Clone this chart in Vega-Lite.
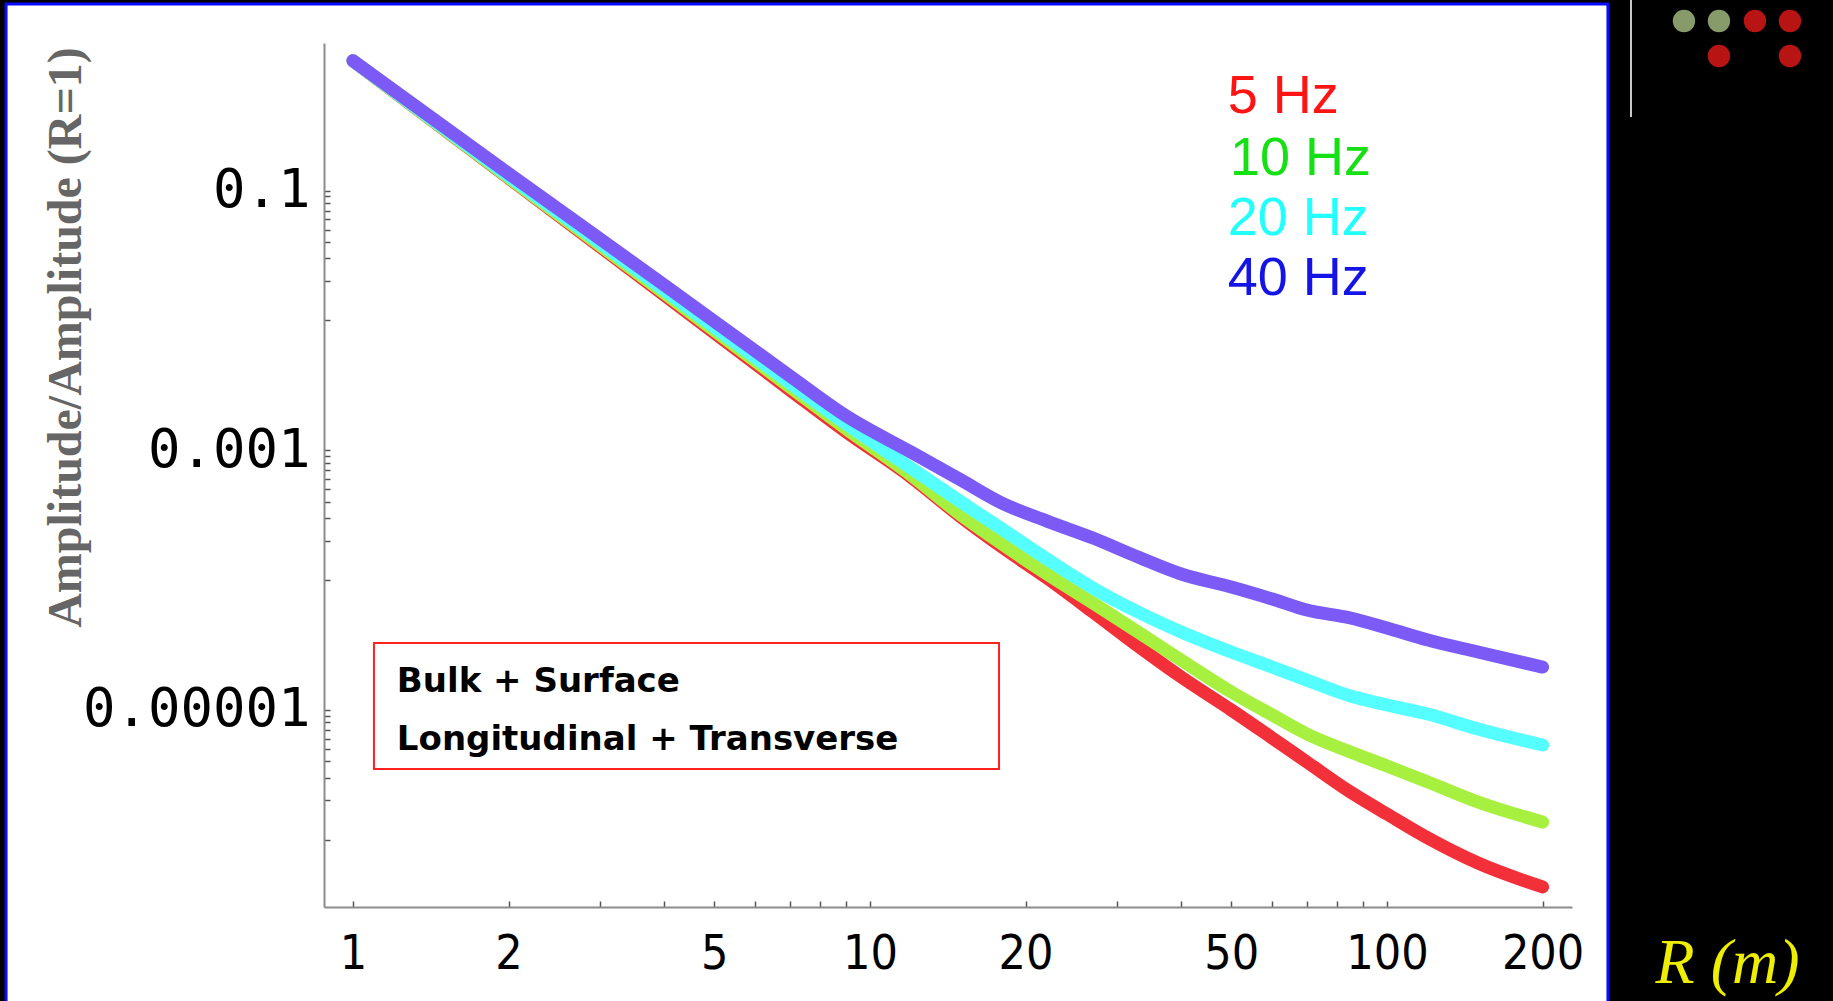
{
  "$schema": "https://vega.github.io/schema/vega-lite/v6.json",
  "width": 1248,
  "height": 864,
  "autosize": "none",
  "padding": {"left": 324, "top": 43, "right": 261, "bottom": 94},
  "background": "#000000",
  "config": {"view": {"stroke": null}, "axis": {"grid": false}},
  "datasets": {
    "curves": [
      {"R": 1, "A": 1.0, "f": "5 Hz"}, {"R": 2, "A": 0.1248, "f": "5 Hz"}, {"R": 4, "A": 0.01566, "f": "5 Hz"}, {"R": 7, "A": 0.002904, "f": "5 Hz"}, {"R": 9, "A": 0.001378, "f": "5 Hz"}, {"R": 12, "A": 0.000621, "f": "5 Hz"}, {"R": 15, "A": 0.000305, "f": "5 Hz"}, {"R": 18, "A": 0.0001792, "f": "5 Hz"}, {"R": 22, "A": 0.0001034, "f": "5 Hz"}, {"R": 27, "A": 5.656e-5, "f": "5 Hz"}, {"R": 33, "A": 3.096e-5, "f": "5 Hz"}, {"R": 40, "A": 1.786e-5, "f": "5 Hz"}, {"R": 50, "A": 9.95e-6, "f": "5 Hz"}, {"R": 60, "A": 6.05e-6, "f": "5 Hz"}, {"R": 70, "A": 3.955e-6, "f": "5 Hz"}, {"R": 85, "A": 2.322e-6, "f": "5 Hz"}, {"R": 100, "A": 1.572e-6, "f": "5 Hz"}, {"R": 120, "A": 1.027e-6, "f": "5 Hz"}, {"R": 150, "A": 6.59e-7, "f": "5 Hz"}, {"R": 200, "A": 4.31e-7, "f": "5 Hz"},
      {"R": 1, "A": 1.0, "f": "10 Hz"}, {"R": 2, "A": 0.1259, "f": "10 Hz"}, {"R": 4, "A": 0.01623, "f": "10 Hz"}, {"R": 7, "A": 0.003063, "f": "10 Hz"}, {"R": 9, "A": 0.001454, "f": "10 Hz"}, {"R": 12, "A": 0.000643, "f": "10 Hz"}, {"R": 15, "A": 0.000316, "f": "10 Hz"}, {"R": 18, "A": 0.0001891, "f": "10 Hz"}, {"R": 22, "A": 0.000111, "f": "10 Hz"}, {"R": 27, "A": 6.637e-5, "f": "10 Hz"}, {"R": 33, "A": 3.97e-5, "f": "10 Hz"}, {"R": 40, "A": 2.41e-5, "f": "10 Hz"}, {"R": 50, "A": 1.369e-5, "f": "10 Hz"}, {"R": 60, "A": 9.1e-6, "f": "10 Hz"}, {"R": 70, "A": 6.5e-6, "f": "10 Hz"}, {"R": 85, "A": 4.72e-6, "f": "10 Hz"}, {"R": 100, "A": 3.683e-6, "f": "10 Hz"}, {"R": 120, "A": 2.773e-6, "f": "10 Hz"}, {"R": 150, "A": 1.945e-6, "f": "10 Hz"}, {"R": 200, "A": 1.364e-6, "f": "10 Hz"},
      {"R": 1, "A": 1.0, "f": "20 Hz"}, {"R": 2, "A": 0.1293, "f": "20 Hz"}, {"R": 4, "A": 0.01712, "f": "20 Hz"}, {"R": 7, "A": 0.003288, "f": "20 Hz"}, {"R": 9, "A": 0.001589, "f": "20 Hz"}, {"R": 12, "A": 0.000728, "f": "20 Hz"}, {"R": 15, "A": 0.0003983, "f": "20 Hz"}, {"R": 18, "A": 0.0002466, "f": "20 Hz"}, {"R": 22, "A": 0.0001449, "f": "20 Hz"}, {"R": 27, "A": 8.66e-5, "f": "20 Hz"}, {"R": 33, "A": 5.656e-5, "f": "20 Hz"}, {"R": 40, "A": 3.97e-5, "f": "20 Hz"}, {"R": 50, "A": 2.782e-5, "f": "20 Hz"}, {"R": 60, "A": 2.13e-5, "f": "20 Hz"}, {"R": 70, "A": 1.69e-5, "f": "20 Hz"}, {"R": 85, "A": 1.275e-5, "f": "20 Hz"}, {"R": 100, "A": 1.087e-5, "f": "20 Hz"}, {"R": 120, "A": 9.27e-6, "f": "20 Hz"}, {"R": 150, "A": 7.1e-6, "f": "20 Hz"}, {"R": 200, "A": 5.35e-6, "f": "20 Hz"},
      {"R": 1, "A": 1.0, "f": "40 Hz"}, {"R": 2, "A": 0.1354, "f": "40 Hz"}, {"R": 4, "A": 0.01871, "f": "40 Hz"}, {"R": 7, "A": 0.003724, "f": "40 Hz"}, {"R": 9, "A": 0.001831, "f": "40 Hz"}, {"R": 12, "A": 0.000967, "f": "40 Hz"}, {"R": 15, "A": 0.000588, "f": "40 Hz"}, {"R": 18, "A": 0.000391, "f": "40 Hz"}, {"R": 22, "A": 0.000284, "f": "40 Hz"}, {"R": 27, "A": 0.00021, "f": "40 Hz"}, {"R": 33, "A": 0.00015, "f": "40 Hz"}, {"R": 40, "A": 0.000111, "f": "40 Hz"}, {"R": 50, "A": 8.82e-5, "f": "40 Hz"}, {"R": 60, "A": 7.125e-5, "f": "40 Hz"}, {"R": 70, "A": 5.86e-5, "f": "40 Hz"}, {"R": 85, "A": 5.09e-5, "f": "40 Hz"}, {"R": 100, "A": 4.26e-5, "f": "40 Hz"}, {"R": 120, "A": 3.44e-5, "f": "40 Hz"}, {"R": 150, "A": 2.782e-5, "f": "40 Hz"}, {"R": 200, "A": 2.13e-5, "f": "40 Hz"}
    ],
    "legend": [
      {"f": "5 Hz", "lx": 49.2, "ly": 0.3926},
      {"f": "10 Hz", "lx": 49.7, "ly": 0.1307},
      {"f": "20 Hz", "lx": 49.2, "ly": 0.04544},
      {"f": "40 Hz", "lx": 49.2, "ly": 0.01578}
    ],
    "note": [
      {"t": "Bulk + Surface", "nx": 1.216, "ny": 1.369e-5},
      {"t": "Longitudinal + Transverse", "nx": 1.216, "ny": 4.89e-6}
    ],
    "dots": [
      {"dx": 375.4, "dy": 2.022, "k": "g"},
      {"dx": 438.7, "dy": 2.022, "k": "g"},
      {"dx": 515.0, "dy": 2.022, "k": "r"},
      {"dx": 601.9, "dy": 2.022, "k": "r"},
      {"dx": 438.7, "dy": 1.087, "k": "r"},
      {"dx": 601.9, "dy": 1.087, "k": "r"}
    ]
  },
  "resolve": {"scale": {"color": "independent"}},
  "layer": [
    {
      "data": {"values": [{}]},
      "mark": {"type": "rect", "fill": "#ffffff", "stroke": "#0a0aff", "strokeWidth": 3, "clip": false},
      "encoding": {
        "x": {"datum": 0.2133, "type": "quantitative", "scale": {"type": "log", "domain": [0.879, 228]}},
        "x2": {"datum": 267.6},
        "y": {"datum": 2.734, "type": "quantitative", "scale": {"type": "log", "domain": [3.02e-7, 1.369]}},
        "y2": {"datum": 4.86e-8}
      }
    },
    {
      "data": {"values": [{}]},
      "mark": {"type": "rule", "color": "#c8c8c8", "strokeWidth": 2, "clip": false},
      "encoding": {
        "x": {"datum": 296.5, "type": "quantitative", "scale": {"type": "log", "domain": [0.879, 228]}},
        "y": {"datum": 2.935, "type": "quantitative", "scale": {"type": "log", "domain": [3.02e-7, 1.369]}},
        "y2": {"datum": 0.3683}
      }
    },
    {
      "data": {"name": "dots"},
      "mark": {"type": "point", "filled": true, "opacity": 1, "size": 500, "clip": false},
      "encoding": {
        "x": {"field": "dx", "type": "quantitative", "scale": {"type": "log", "domain": [0.879, 228]}},
        "y": {"field": "dy", "type": "quantitative", "scale": {"type": "log", "domain": [3.02e-7, 1.369]}},
        "color": {"field": "k", "type": "nominal", "scale": {"domain": ["g", "r"], "range": ["#879a6a", "#b81414"]}, "legend": null}
      }
    },
    {
      "data": {"values": [{}]},
      "mark": {"type": "rect", "fill": "#ffffff", "stroke": "#ff2020", "strokeWidth": 2},
      "encoding": {
        "x": {"datum": 1.098, "type": "quantitative", "scale": {"type": "log", "domain": [0.879, 228]}},
        "x2": {"datum": 17.77},
        "y": {"datum": 3.265e-5, "type": "quantitative", "scale": {"type": "log", "domain": [3.02e-7, 1.369]}},
        "y2": {"datum": 3.49e-6}
      }
    },
    {
      "data": {"name": "note"},
      "mark": {"type": "text", "align": "left", "baseline": "alphabetic", "font": "DejaVu Sans", "fontWeight": "bold", "fontSize": 34, "color": "#000000"},
      "encoding": {
        "x": {"field": "nx", "type": "quantitative", "scale": {"type": "log", "domain": [0.879, 228]}},
        "y": {"field": "ny", "type": "quantitative", "scale": {"type": "log", "domain": [3.02e-7, 1.369]}},
        "text": {"field": "t"}
      }
    },
    {
      "data": {"name": "curves"},
      "mark": {"type": "line", "strokeWidth": 13, "strokeCap": "round", "strokeJoin": "round", "interpolate": "monotone"},
      "encoding": {
        "x": {
          "field": "R", "type": "quantitative",
          "scale": {"type": "log", "domain": [0.879, 228]},
          "axis": {
            "zindex": 1,
            "values": [1, 2, 3, 4, 5, 6, 7, 8, 9, 10, 20, 30, 40, 50, 60, 70, 80, 90, 100, 200],
            "labelExpr": "indexof([1,2,5,10,20,50,100,200], datum.value) >= 0 ? datum.label : ''",
            "format": "d",
            "labelFont": "DejaVu Sans Condensed",
            "labelFontSize": 48,
            "labelColor": "#000000",
            "labelPadding": 29,
            "labelFlush": false,
            "labelOverlap": false,
            "labelLimit": 400,
            "tickSize": -6,
            "tickColor": "#555555",
            "tickWidth": 1.5,
            "domainColor": "#8c8c8c",
            "domainWidth": 2,
            "title": "R (m)",
            "titleFont": "Liberation Serif",
            "titleFontStyle": "italic",
            "titleFontWeight": "normal",
            "titleFontSize": 64,
            "titleColor": "#eeee00",
            "titleX": 1403,
            "titleY": 75,
            "titleAlign": "center",
            "titleBaseline": "alphabetic"
          }
        },
        "y": {
          "field": "A", "type": "quantitative",
          "scale": {"type": "log", "domain": [3.02e-7, 1.369]},
          "axis": {
            "zindex": 1,
            "values": [0.1, 0.09, 0.08, 0.07, 0.06, 0.05, 0.04, 0.03, 0.02, 0.01, 0.001, 0.0009, 0.0008, 0.0007, 0.0006, 0.0005, 0.0004, 0.0003, 0.0002, 0.0001, 0.00001, 0.000009, 0.000008, 0.000007, 0.000006, 0.000005, 0.000004, 0.000003, 0.000002, 0.000001],
            "labelExpr": "datum.value == 0.1 ? '0.1' : datum.value == 0.001 ? '0.001' : datum.value == 0.00001 ? '0.00001' : ''",
            "labelFont": "DejaVu Sans Mono",
            "labelFontSize": 54,
            "labelColor": "#000000",
            "labelPadding": 20,
            "labelFlush": false,
            "labelOverlap": false,
            "labelLimit": 400,
            "tickSize": -6,
            "tickColor": "#555555",
            "tickWidth": 1.5,
            "domainColor": "#8c8c8c",
            "domainWidth": 2,
            "title": "Amplitude/Amplitude (R=1)",
            "titleFont": "Liberation Serif",
            "titleFontWeight": "bold",
            "titleFontSize": 48,
            "titleColor": "#666666",
            "titleAngle": 270,
            "titleX": -244,
            "titleY": 294,
            "titleAlign": "center",
            "titleBaseline": "alphabetic"
          }
        },
        "color": {
          "field": "f", "type": "nominal",
          "scale": {"domain": ["5 Hz", "10 Hz", "20 Hz", "40 Hz"], "range": ["#f2303a", "#a8f040", "#55ffff", "#7b5af6"]},
          "legend": null
        }
      }
    },
    {
      "data": {"name": "legend"},
      "mark": {"type": "text", "align": "left", "baseline": "alphabetic", "font": "Liberation Sans", "fontSize": 54},
      "encoding": {
        "x": {"field": "lx", "type": "quantitative", "scale": {"type": "log", "domain": [0.879, 228]}},
        "y": {"field": "ly", "type": "quantitative", "scale": {"type": "log", "domain": [3.02e-7, 1.369]}},
        "text": {"field": "f"},
        "color": {
          "field": "f", "type": "nominal",
          "scale": {"domain": ["5 Hz", "10 Hz", "20 Hz", "40 Hz"], "range": ["#ff1414", "#14e014", "#22ffff", "#1414e6"]},
          "legend": null
        }
      }
    }
  ]
}
